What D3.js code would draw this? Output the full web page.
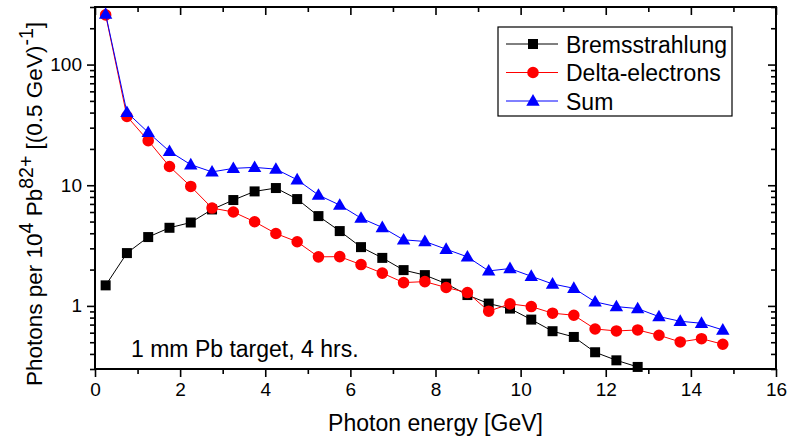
<!DOCTYPE html>
<html>
<head>
<meta charset="utf-8">
<script src="https://cdn.jsdelivr.net/npm/d3@7"></script>
<style>
  body { margin: 0; background: #fff; }
  svg { display: block; }
  text { font-family: "Liberation Sans", Arial, sans-serif; fill: #000; }
</style>
</head>
<body>
<svg id="chart" width="790" height="444"></svg>
<script>
// Photon spectra per 0.5 GeV bin (bin centres in GeV)
const energies = [0.25, 0.75, 1.25, 1.75, 2.25, 2.75, 3.25, 3.75, 4.25, 4.75,
                  5.25, 5.75, 6.25, 6.75, 7.25, 7.75, 8.25, 8.75, 9.25, 9.75,
                  10.25, 10.75, 11.25, 11.75, 12.25, 12.75, 13.25, 13.75, 14.25, 14.75];

const bremsstrahlung = [1.48, 2.74, 3.72, 4.44, 4.91, 6.3, 7.54, 8.89, 9.48, 7.68,
                        5.55, 4.17, 3.07, 2.50, 1.98, 1.80, 1.53, 1.23, 1.045, 0.95,
                        0.77, 0.617, 0.553, 0.413, 0.354, 0.312];

const deltaElectrons = [258, 37.2, 23.4, 14.3, 9.77, 6.47, 6.0, 4.98, 3.98, 3.40,
                        2.55, 2.56, 2.20, 1.87, 1.56, 1.59, 1.42, 1.29, 0.904, 1.04,
                        0.987, 0.87, 0.837, 0.644, 0.62, 0.632, 0.571, 0.503, 0.535, 0.481];

const sumSpectrum = [262, 40.2, 27.4, 19.1, 14.8, 12.9, 13.8, 14.06, 13.6, 11.1,
                     8.29, 6.85, 5.34, 4.47, 3.53, 3.42, 2.95, 2.55, 1.95, 2.04,
                     1.76, 1.52, 1.40, 1.08, 0.987, 0.95, 0.815, 0.746, 0.718, 0.632];

const seriesNames = ["Bremsstrahlung", "Delta-electrons", "Sum"];
const xMajorTicks = [0, 2, 4, 6, 8, 10, 12, 14, 16];
const xMinorTicks = [1, 3, 5, 7, 9, 11, 13, 15];
const yMajorTicks = [1, 10, 100];
const yMinorTicks = [0.3, 0.4, 0.5, 0.6, 0.7, 0.8, 0.9,
                     2, 3, 4, 5, 6, 7, 8, 9,
                     20, 30, 40, 50, 60, 70, 80, 90, 200, 300];

const svg = d3.select("#chart");
const plot = { left: 95, right: 776, top: 7, bottom: 369 };

const x = d3.scaleLinear().domain([0, 16]).range([plot.left, plot.right]);
const y = d3.scaleLog().domain([0.3, 300]).range([plot.bottom, plot.top]);

// marker shapes
const squareShape = { draw(ctx, size) { const h = Math.sqrt(size) / 2; ctx.rect(-h, -h, 2 * h, 2 * h); } };
const triangleShape = { draw(ctx, size) {
  const s = Math.sqrt(size);
  ctx.moveTo(0, -0.62 * s); ctx.lineTo(0.6 * s, 0.42 * s); ctx.lineTo(-0.6 * s, 0.42 * s); ctx.closePath();
} };

const series = [
  { name: seriesNames[0], values: bremsstrahlung, color: "#000000", symbol: d3.symbol(squareShape, 100) },
  { name: seriesNames[1], values: deltaElectrons, color: "#ff0000", symbol: d3.symbol(d3.symbolCircle, 105) },
  { name: seriesNames[2], values: sumSpectrum, color: "#0000ff", symbol: d3.symbol(triangleShape, 125) }
];

// axes
function styleAxis(g) {
  g.select(".domain").remove();
  g.selectAll(".tick line").attr("stroke", "#000").attr("stroke-width", 1.6);
  g.selectAll(".tick text").attr("font-size", 19).attr("fill", "#000")
    .style("font-family", '"Liberation Sans", Arial, sans-serif');
}

svg.append("g").attr("transform", `translate(0,${plot.bottom})`)
  .call(d3.axisBottom(x).tickValues(xMajorTicks).tickSize(8).tickPadding(6).tickFormat(d3.format("d")))
  .call(styleAxis);
svg.append("g").attr("transform", `translate(0,${plot.bottom})`)
  .call(d3.axisBottom(x).tickValues(xMinorTicks).tickSize(5).tickFormat(""))
  .call(styleAxis);
svg.append("g").attr("transform", `translate(0,${plot.top})`)
  .call(d3.axisBottom(x).tickValues(xMajorTicks).tickSize(8).tickFormat(""))
  .call(styleAxis);
svg.append("g").attr("transform", `translate(0,${plot.top})`)
  .call(d3.axisBottom(x).tickValues(xMinorTicks).tickSize(5).tickFormat(""))
  .call(styleAxis);

svg.append("g").attr("transform", `translate(${plot.left},0)`)
  .call(d3.axisLeft(y).tickValues(yMajorTicks).tickSize(8).tickPadding(5).tickFormat(d3.format("d")))
  .call(styleAxis);
svg.append("g").attr("transform", `translate(${plot.left},0)`)
  .call(d3.axisLeft(y).tickValues(yMinorTicks).tickSize(5).tickFormat(""))
  .call(styleAxis);
svg.append("g").attr("transform", `translate(${plot.right},0)`)
  .call(d3.axisRight(y).tickValues(yMajorTicks).tickSize(-8).tickFormat(""))
  .call(styleAxis);
svg.append("g").attr("transform", `translate(${plot.right},0)`)
  .call(d3.axisRight(y).tickValues(yMinorTicks).tickSize(-5).tickFormat(""))
  .call(styleAxis);

// frame
svg.append("rect")
  .attr("x", plot.left).attr("y", plot.top)
  .attr("width", plot.right - plot.left).attr("height", plot.bottom - plot.top)
  .attr("fill", "none").attr("stroke", "#000").attr("stroke-width", 2);

// series lines and markers
const line = d3.line().x((d, i) => x(energies[i])).y(d => y(d));
series.forEach(s => {
  const g = svg.append("g");
  g.append("path").datum(s.values)
    .attr("d", line).attr("fill", "none").attr("stroke", s.color).attr("stroke-width", 1);
  g.selectAll("path.marker").data(s.values).enter().append("path")
    .attr("class", "marker")
    .attr("transform", (d, i) => `translate(${x(energies[i])},${y(d)})`)
    .attr("d", s.symbol)
    .attr("fill", s.color);
});

// legend
const legend = svg.append("g");
legend.append("rect").attr("x", 498).attr("y", 27).attr("width", 234).attr("height", 89)
  .attr("fill", "#fff").attr("stroke", "#000").attr("stroke-width", 1.2);
series.forEach((s, i) => {
  const cy = 44 + i * 28.5;
  legend.append("line").attr("x1", 506).attr("x2", 558).attr("y1", cy).attr("y2", cy)
    .attr("stroke", s.color).attr("stroke-width", 1);
  legend.append("path").attr("transform", `translate(533,${cy})`).attr("d", s.symbol).attr("fill", s.color);
  legend.append("text").attr("x", 566).attr("y", cy + 8.5).attr("font-size", 23).text(s.name);
});

// annotation
svg.append("text").attr("x", 131).attr("y", 357).attr("font-size", 23).text("1 mm Pb target, 4 hrs.");

// axis titles
svg.append("text").attr("x", 435.5).attr("y", 431).attr("text-anchor", "middle")
  .attr("font-size", 23).text("Photon energy [GeV]");

const yTitle = svg.append("text")
  .attr("transform", "translate(42,204) rotate(-90)")
  .attr("text-anchor", "middle").attr("font-size", 22.5);
yTitle.append("tspan").text("Photons per 10");
yTitle.append("tspan").attr("font-size", 19.5).attr("dy", -9).text("4");
yTitle.append("tspan").attr("dy", 9).text(" Pb");
yTitle.append("tspan").attr("font-size", 19.5).attr("dy", -9).text("82+");
yTitle.append("tspan").attr("dy", 9).text(" [(0.5 GeV)");
yTitle.append("tspan").attr("font-size", 19.5).attr("dy", -9).text("-1");
yTitle.append("tspan").attr("dy", 9).text("]");
</script>
</body>
</html>
